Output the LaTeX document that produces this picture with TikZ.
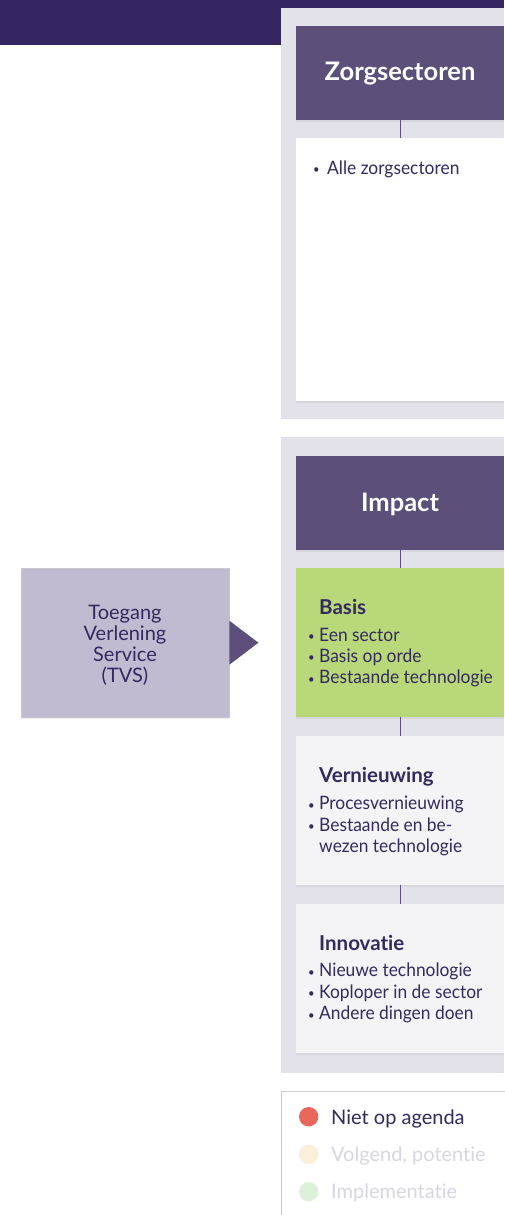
\documentclass[tikz,border=0pt]{standalone}
\usepackage{fontspec}
\setmainfont{Lato}[Ligatures=NoCommon]
\newfontfamily\condfont[FakeStretch=0.94,Ligatures=NoCommon]{Lato}
\usetikzlibrary{shadows}
\definecolor{darkbar}{HTML}{352560}
\definecolor{hdr}{HTML}{5C507B}
\definecolor{panel}{HTML}{E3E1E9}
\definecolor{lightbox}{HTML}{F4F4F7}
\definecolor{greenbox}{HTML}{B8D87A}
\definecolor{tvsbox}{HTML}{C0BBD1}
\definecolor{txt}{HTML}{352A5E}
\definecolor{legred}{HTML}{E8665A}
\definecolor{legyel}{HTML}{FBEEDB}
\definecolor{leggrn}{HTML}{DDF0D9}
\definecolor{fadetxt}{HTML}{D8D5E0}
\definecolor{legborder}{HTML}{CBC8D8}
\newcommand{\bl}[1][11pt]{\makebox[#1][l]{\fontsize{12}{12}\selectfont\raisebox{0.5pt}{•}}}
\begin{document}
\begin{tikzpicture}[x=1pt,y=-1pt,
  boxbase/.style={draw=none,inner sep=0pt,anchor=north west,
     drop shadow={shadow xshift=0pt,shadow yshift=-1.5pt,opacity=0.12}},
  hdrbox/.style={boxbase,fill=hdr,minimum width=208pt,minimum height=94pt},
  itembox/.style={boxbase,minimum width=208pt,minimum height=149pt},
  hdrtext/.style={anchor=base,text=white,font=\fontsize{25.5}{30}\selectfont\bfseries,inner sep=0pt},
  headtext/.style={anchor=base west,text=txt,font=\fontsize{20.5}{24}\selectfont\bfseries,inner sep=0pt},
  bodytext/.style={anchor=base west,text=txt,font=\condfont\fontsize{18.5}{21.4}\selectfont,inner sep=0pt,align=left},
  conn/.style={draw=hdr,line width=1pt},
  legtext/.style={anchor=base west,font=\fontsize{20}{24}\selectfont,inner sep=0pt}]
\useasboundingbox (0,0) rectangle (504,1215);
% top bar
\fill[darkbar] (0,0) rectangle (504,8);
\fill[darkbar] (0,0) rectangle (281,45);
% panels
\fill[panel] (281,8) rectangle (504,419);
\fill[panel] (281,437) rectangle (504,1073);
% panel 1
\node[hdrbox] (h1) at (296,26) {};
\node[hdrtext] (t1) at (400,81) {Zorgsectoren};
\node[boxbase,fill=white,minimum width=208pt,minimum height=263pt] (b1) at (296,138) {};
\node[bodytext] (b1t) at (313,174.3) {\bl[14pt]Alle zorgsectoren};
\draw[conn] (h1.south) -- (b1.north);
% panel 2
\node[hdrbox] (h2) at (296,456) {};
\node[hdrtext] (t2) at (400,511) {Impact};
\node[itembox,fill=greenbox] (b2) at (296,568) {};
\node[itembox,fill=lightbox] (b3) at (296,736) {};
\node[itembox,fill=lightbox] (b4) at (296,904) {};
\draw[conn] (h2.south) -- (b2.north);
\draw[conn] (b2.south) -- (b3.north);
\draw[conn] (b3.south) -- (b4.north);
\node[headtext] (b2h) at (319,614) {Basis};
\node[bodytext] (b2t) at (308,683.8) {\bl Een sector\\\bl Basis op orde\\\bl Bestaande technologie};
\node[headtext] (b3h) at (319,782.7) {Vernieuwing};
\node[bodytext] (b3t) at (308,852.6) {\bl Procesvernieuwing\\\bl Bestaande en be-\\\hspace*{11pt}wezen technologie};
\node[headtext] (b4h) at (319,950) {Innovatie};
\node[bodytext] (b4t) at (308,1019.6) {\bl Nieuwe technologie\\\bl Koploper in de sector\\\bl Andere dingen doen};
% TVS
\node[boxbase,fill=tvsbox,draw=tvsbox!85!black!60,line width=0.4pt,minimum width=208pt,minimum height=149pt] (tvs) at (21,568) {};
\node[anchor=base,text=txt,font=\fontsize{20}{20.8}\selectfont,align=center,inner sep=0pt] (tvst) at (125,682.3) {Toegang\\Verlening\\Service\\(TVS)};
\fill[hdr] ([yshift=22pt]tvs.east) -- ([yshift=-22pt]tvs.east) -- ([xshift=29pt]tvs.east) -- cycle;
% legend
\node[boxbase,fill=white,draw=legborder,line width=1pt,minimum width=240pt,minimum height=140pt,drop shadow={opacity=0}] (leg) at (281,1091) {};
\fill[legred] (308.7,1116.7) circle (9.7);
\fill[legyel] (308.7,1154.3) circle (9.7);
\fill[leggrn] (308.7,1191.7) circle (9.7);
\node[legtext,text=txt] (l1) at (331,1124) {Niet op agenda};
\node[legtext,text=fadetxt] (l2) at (331,1161.7) {Volgend, potentie};
\node[legtext,text=fadetxt] (l3) at (331,1198.3) {Implementatie};
\end{tikzpicture}
\end{document}
